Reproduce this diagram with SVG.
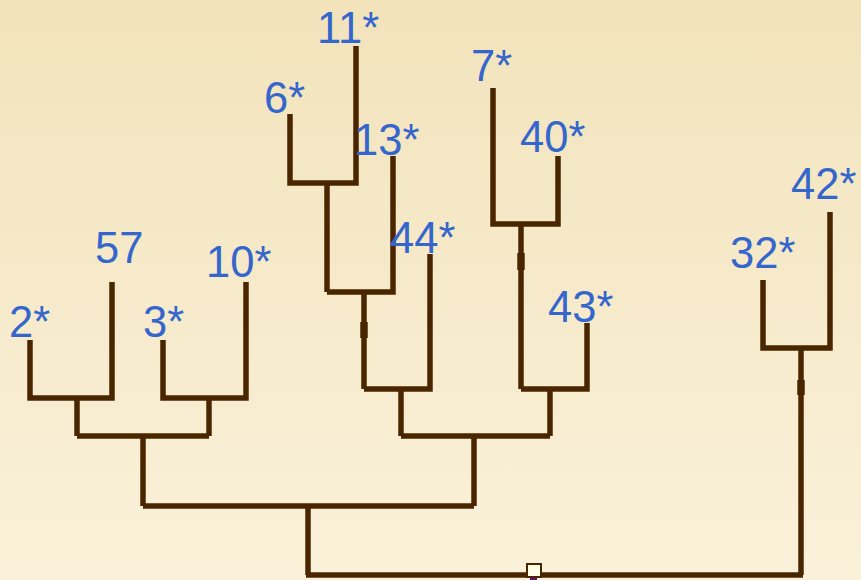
<svg xmlns="http://www.w3.org/2000/svg" width="861" height="580" viewBox="0 0 861 580">
  <defs>
    <linearGradient id="bg" x1="0" y1="0" x2="0" y2="1">
      <stop offset="0" stop-color="#F2E3BB"/>
      <stop offset="1" stop-color="#FAF1DA"/>
    </linearGradient>
    <style>
      .branch { fill: none; stroke: #4A2600; stroke-width: 5.5; stroke-linejoin: miter; stroke-linecap: butt; }
      .knot { fill: none; stroke: #4A2600; stroke-width: 7.5; }
      .label { font-family: "Liberation Sans", Arial, sans-serif; font-size: 43.5px; fill: #3466CC; }
    </style>
  </defs>

  <rect width="861" height="580" fill="url(#bg)"/>

  <!-- branches of the tree -->
  <g id="connectors">
    <!-- 2* + 57 -->
    <path class="branch" d="M30 340 V398 H112 V282"/>
    <path class="branch" d="M77 398 V436"/>
    <!-- 3* + 10* -->
    <path class="branch" d="M163 340 V398 H246 V282"/>
    <path class="branch" d="M209 398 V436"/>
    <!-- left pair of pairs -->
    <path class="branch" d="M77 436 H209"/>
    <path class="branch" d="M143 436 V506"/>
    <!-- 6* + 11* -->
    <path class="branch" d="M290 114 V183 H356 V46"/>
    <path class="branch" d="M327 183 V292"/>
    <!-- + 13* -->
    <path class="branch" d="M327 292 H393 V156"/>
    <path class="branch" d="M364 292 V389"/>
    <path class="knot" d="M364 322 V338"/>
    <!-- + 44* -->
    <path class="branch" d="M364 389 H430 V254"/>
    <path class="branch" d="M401 389 V436"/>
    <!-- 7* + 40* -->
    <path class="branch" d="M493 88 V224 H558 V156"/>
    <path class="branch" d="M521 224 V389"/>
    <path class="knot" d="M521 253 V270"/>
    <!-- + 43* -->
    <path class="branch" d="M521 389 H587 V323"/>
    <path class="branch" d="M550 389 V436"/>
    <!-- middle join -->
    <path class="branch" d="M401 436 H550"/>
    <path class="branch" d="M474 436 V506"/>
    <!-- left + middle -->
    <path class="branch" d="M143 506 H474"/>
    <path class="branch" d="M308 506 V575"/>
    <!-- 32* + 42* -->
    <path class="branch" d="M763 280 V348 H830 V212"/>
    <path class="branch" d="M801 348 V575"/>
    <path class="knot" d="M801 380 V395"/>
    <!-- root -->
    <path class="branch" d="M306 575 H803"/>
  </g>

  <!-- root handle -->
  <g id="root">
    <rect x="530" y="577" width="7" height="3" fill="#6A0A6A"/>
    <rect x="527" y="564" width="14" height="13" fill="#FFFDE6" stroke="#4A2600" stroke-width="2"/>
  </g>

  <!-- leaves -->
  <g id="leaf-2"><text class="label" x="9" y="337">2*</text></g>
  <g id="leaf-57"><text class="label" x="95" y="263">57</text></g>
  <g id="leaf-3"><text class="label" x="143" y="337">3*</text></g>
  <g id="leaf-10"><text class="label" x="206" y="277">10*</text></g>
  <g id="leaf-6"><text class="label" x="264" y="113">6*</text></g>
  <g id="leaf-11"><text class="label" x="317" y="43">11*</text></g>
  <g id="leaf-13"><text class="label" x="354" y="155">13*</text></g>
  <g id="leaf-44"><text class="label" x="390" y="253">44*</text></g>
  <g id="leaf-7"><text class="label" x="471" y="81">7*</text></g>
  <g id="leaf-40"><text class="label" x="520" y="152">40*</text></g>
  <g id="leaf-43"><text class="label" x="548" y="322">43*</text></g>
  <g id="leaf-32"><text class="label" x="730" y="268">32*</text></g>
  <g id="leaf-42"><text class="label" x="791" y="199">42*</text></g>
</svg>
